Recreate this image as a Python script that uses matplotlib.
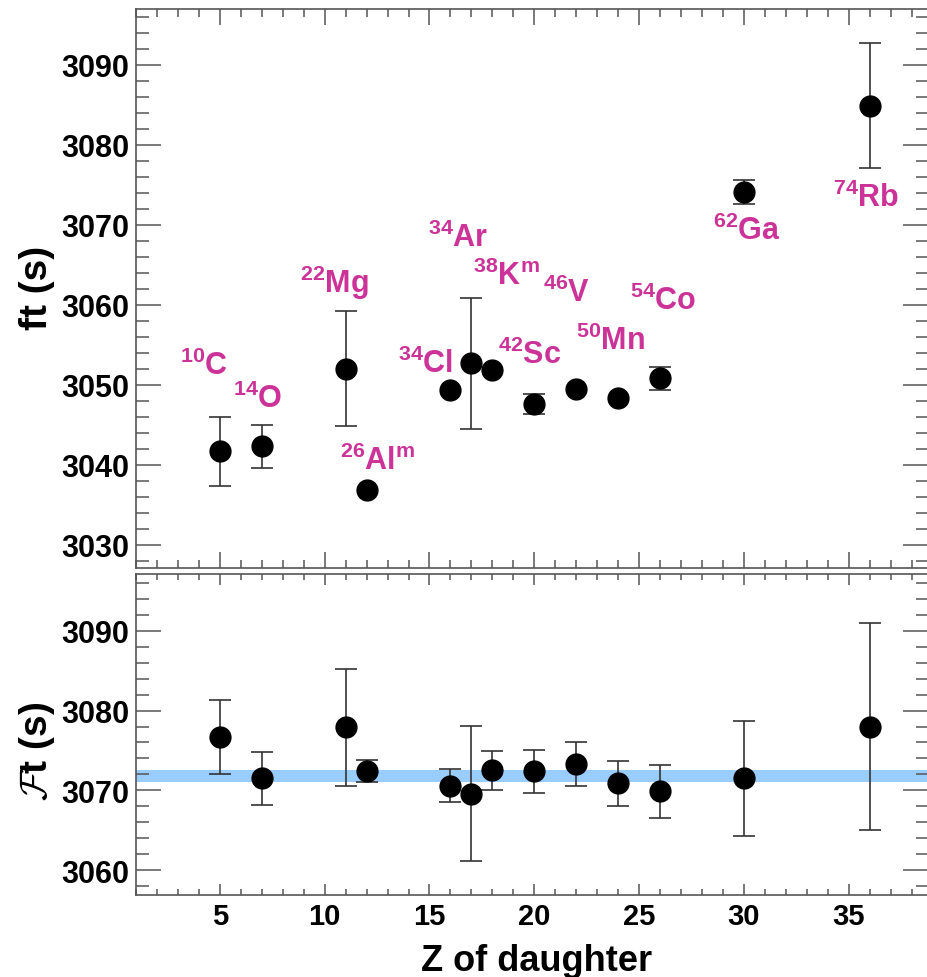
import numpy as np
import matplotlib
matplotlib.use('Agg')
import matplotlib.pyplot as plt
from matplotlib.ticker import MultipleLocator

plt.rcParams['font.family'] = ['Liberation Sans', 'DejaVu Sans']
plt.rcParams['font.weight'] = 'bold'
plt.rcParams['mathtext.fontset'] = 'custom'
plt.rcParams['mathtext.rm'] = 'Liberation Sans:bold'
plt.rcParams['mathtext.bf'] = 'Liberation Sans:bold'
plt.rcParams['mathtext.default'] = 'bf'

# Z of daughter nucleus
z = [5, 7, 11, 12, 16, 17, 18, 20, 22, 24, 26, 30, 36]
nuclides = ['$^{10}$C', '$^{14}$O', '$^{22}$Mg', '$^{26}$Al$^{m}$', '$^{34}$Cl', '$^{34}$Ar',
            '$^{38}$K$^{m}$', '$^{42}$Sc', '$^{46}$V', '$^{50}$Mn', '$^{54}$Co', '$^{62}$Ga', '$^{74}$Rb']

# uncorrected ft values (s)
ft = [3041.7, 3042.3, 3052.0, 3036.9, 3049.4, 3052.7, 3051.9, 3047.6, 3049.5, 3048.4, 3050.8, 3074.1, 3084.9]
ft_err = [4.3, 2.7, 7.2, 0.9, 1.1, 8.2, 1.0, 1.3, 0.8, 0.7, 1.4, 1.5, 7.8]

# corrected Ft values (s)
Ft = [3076.7, 3071.5, 3077.9, 3072.4, 3070.6, 3069.6, 3072.5, 3072.4, 3073.3, 3070.9, 3069.9, 3071.5, 3078.0]
Ft_err = [4.6, 3.3, 7.3, 1.4, 2.1, 8.5, 2.4, 2.7, 2.7, 2.8, 3.3, 7.2, 13.0]

# weighted average of Ft
Ft_avg = 3071.8
Ft_avg_err = 0.75

# where the nuclide names sit (left edge, baseline) in data coords
label_x = [3.1, 5.63, 8.82, 10.73, 13.49, 14.92, 17.07, 18.26, 20.41, 21.98, 24.56, 28.54, 34.27]
label_y = [3051.3, 3047.2, 3061.6, 3039.5, 3051.6, 3067.4, 3062.6, 3052.7, 3060.5, 3054.5, 3059.5, 3068.3, 3072.4]

W, H = 928, 978
fig = plt.figure(figsize=(W/100, H/100), dpi=100)
ax1 = fig.add_axes([136/W, 1-569/H, 1-136/W, (569-10)/H])
ax2 = fig.add_axes([136/W, 1-896/H, 1-136/W, (896-575)/H])

frame = '#555555'
for ax in (ax1, ax2):
	ax.set_xlim(1, 38.78)
	ax.xaxis.set_major_locator(MultipleLocator(5))
	ax.xaxis.set_minor_locator(MultipleLocator(1))
	ax.yaxis.set_major_locator(MultipleLocator(10))
	ax.yaxis.set_minor_locator(MultipleLocator(2))
	for s in ax.spines.values():
		s.set_color(frame)
		s.set_linewidth(1.2)
	ax.tick_params(which='both', direction='in', top=True, right=True, color=frame, width=1.1)
	ax.tick_params(axis='y', which='major', length=18, labelsize=22, pad=5)
	ax.tick_params(axis='y', which='minor', length=9)

ax1.tick_params(axis='x', which='major', length=11.5, labelbottom=False)
ax1.tick_params(axis='x', which='minor', length=6)
ax2.tick_params(axis='x', which='major', length=8, labelsize=21, pad=5)
ax2.tick_params(axis='x', which='minor', length=4.5)

ax1.set_ylim(3027.1, 3097.0)
ax2.set_ylim(3056.9, 3097.1)


def draw_points(ax, x, y, e):
	# error bars smaller than the marker get no caps (hidden behind the dot)
	x, y, e = np.array(x), np.array(y), np.array(e)
	big = e >= 1.2
	ax.errorbar(x[big], y[big], yerr=e[big], fmt='none', ecolor='#333333',
	            elinewidth=1.2, capsize=8, capthick=1.2, zorder=2)
	ax.errorbar(x[~big], y[~big], yerr=e[~big], fmt='none', ecolor='#333333',
	            elinewidth=1.2, capsize=0, zorder=2)
	ax.plot(x, y, 'o', color='black', ms=15, zorder=3)


draw_points(ax1, z, ft, ft_err)
for name, lx, ly in zip(nuclides, label_x, label_y):
	ax1.text(lx, ly, name, color='#cc3399', fontsize=22, fontweight='bold', ha='left', va='baseline')

ax2.axhspan(Ft_avg - Ft_avg_err, Ft_avg + Ft_avg_err, color='#99ccff', lw=0, zorder=1)
draw_points(ax2, z, Ft, Ft_err)

for lab in ax1.get_yticklabels() + ax2.get_yticklabels() + ax2.get_xticklabels():
	lab.set_fontweight('bold')

fig.text(36.7/W, 1-288/H, 'ft (s)', rotation=90, ha='center', va='center', fontsize=28, fontweight='bold')
fig.text(36.7/W, 1-751/H, r'$\mathcal{F}$t (s)', rotation=90, ha='center', va='center',
         fontsize=28, fontweight='bold', math_fontfamily='cm')
fig.text(537/W, 1-971/H, 'Z of daughter', ha='center', va='baseline', fontsize=26, fontweight='bold')

fig.savefig('out.png', dpi=100)
